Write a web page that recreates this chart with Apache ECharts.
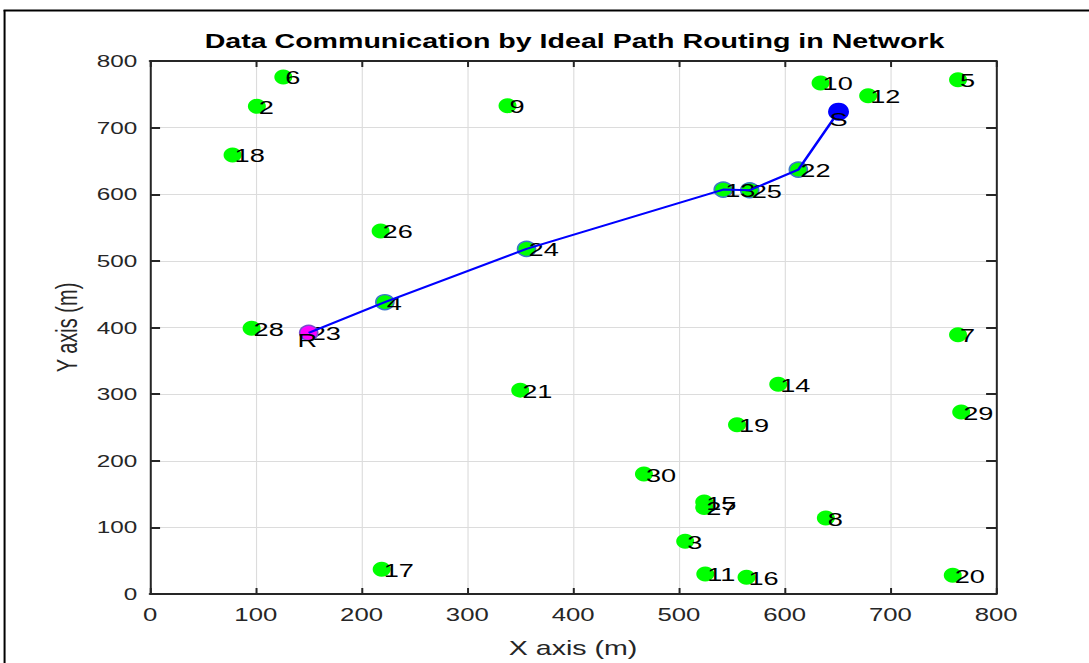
<!DOCTYPE html>
<html>
<head>
<meta charset="utf-8">
<script src="https://cdn.jsdelivr.net/npm/echarts@6/dist/echarts.min.js"></script>
<style>
html,body{margin:0;padding:0;background:#fff;overflow:hidden;width:1089px;height:663px}
#chart{width:762px;height:663px;overflow:hidden;transform:scaleX(1.429134);transform-origin:0 0;}
</style>
</head>
<body>
<div id="chart"></div>
<script>
// ---- data ----
const titleText = 'Data Communication by Ideal Path Routing in Network';
const xAxisName = 'X axis (m)';
const yAxisName = 'Y axis (m)';
const axisMin = 0, axisMax = 800, axisStep = 100;

const nodeIds = [1,2,3,4,5,6,7,8,9,10,11,12,13,14,15,16,17,18,19,20,21,22,23,24,25,26,27,28,29,30];
const nodeX   = [651,101,506,222,764,126,764,639,338,634,525,679,542,594,524,564,219,78,555,759,350,613,150,356,567,218,524,96,767,467];
const nodeY   = [724,732,79,438,772,776,389,114,733,767,30,748,607,315,138,25,37,659,254,28,306,637,392,518,606,545,130,399,273,180];

const sourceId = 1;     // S
const receiverId = 23;  // R
const routeIds = [23,4,24,13,25,22,1];

// ---- helpers ----
const K = 1.429134; // horizontal stretch of the reference rendering
const pt = id => { const i = nodeIds.indexOf(id); return [nodeX[i], nodeY[i], id]; };
const FONT = 'Liberation Sans, Arial, sans-serif';
const MK = [18 / K, 15];

const innerIds = routeIds.filter(id => id !== sourceId && id !== receiverId);
const plainIds = nodeIds.filter(id => routeIds.indexOf(id) < 0 || id === receiverId);

const chart = echarts.init(document.getElementById('chart'), null, {renderer: 'svg'});

const numLabel = {
  show: true, position: 'inside', align: 'left', verticalAlign: 'middle',
  offset: [2 / K, 1], formatter: p => String(p.value[2]),
  fontFamily: FONT, fontSize: 19, color: '#000'
};

const axisCommon = {
  type: 'value', min: axisMin, max: axisMax, interval: axisStep
};

chart.setOption({
  animation: false,
  backgroundColor: '#fff',
  title: {
    text: titleText, left: 397, top: 26, textAlign: 'center',
    textStyle: {fontFamily: FONT, fontWeight: 'bold', fontSize: 20, color: '#000'}
  },
  grid: {left: 105, right: 65, top: 61, bottom: 63, containLabel: false},
  graphic: [
    {type: 'line', shape: {x1: 2.5, y1: 10.5, x2: 762, y2: 10.5}, style: {stroke: '#000', lineWidth: 2}, silent: true},
    {type: 'line', shape: {x1: 3.2, y1: 10, x2: 3.2, y2: 663}, style: {stroke: '#000', lineWidth: 1.4}, silent: true}
  ],
  xAxis: [
    Object.assign({}, axisCommon, {
      position: 'bottom',
      name: xAxisName, nameLocation: 'middle', nameGap: 44,
      nameTextStyle: {fontFamily: FONT, fontSize: 20, color: '#262626'},
      axisLine: {show: true, onZero: false, lineStyle: {color: '#262626', width: 2}},
      axisTick: {show: true, inside: true, length: 6, lineStyle: {color: '#262626', width: 1.4}},
      axisLabel: {show: true, margin: 12, fontFamily: FONT, fontSize: 18, color: '#262626'},
      splitLine: {show: true, lineStyle: {color: '#dcdcdc', width: 0.8}}
    }),
    Object.assign({}, axisCommon, {
      position: 'top',
      axisLine: {show: true, onZero: false, lineStyle: {color: '#262626', width: 2}},
      axisTick: {show: true, inside: true, length: 6, lineStyle: {color: '#262626', width: 1.4}},
      axisLabel: {show: false},
      splitLine: {show: false}
    })
  ],
  yAxis: [
    Object.assign({}, axisCommon, {
      position: 'left',
      name: yAxisName, nameLocation: 'middle', nameGap: 45, nameRotate: 90,
      nameTextStyle: {fontFamily: FONT, fontSize: 20, color: '#262626'},
      axisLine: {show: true, onZero: false, lineStyle: {color: '#262626', width: 1.4}},
      axisTick: {show: true, inside: true, length: 7, lineStyle: {color: '#262626', width: 2}},
      axisLabel: {show: true, margin: 9, fontFamily: FONT, fontSize: 17, color: '#262626'},
      splitLine: {show: true, lineStyle: {color: '#dcdcdc', width: 1}}
    }),
    Object.assign({}, axisCommon, {
      position: 'right',
      axisLine: {show: true, onZero: false, lineStyle: {color: '#262626', width: 1.4}},
      axisTick: {show: true, inside: true, length: 7, lineStyle: {color: '#262626', width: 2}},
      axisLabel: {show: false},
      splitLine: {show: false}
    })
  ],
  series: [
    {
      name: 'nodes', type: 'scatter', z: 2,
      symbol: 'circle', symbolSize: MK,
      itemStyle: {color: '#00ff00', opacity: 1},
      data: plainIds.map(pt),
      label: numLabel
    },
    {
      name: 'route nodes', type: 'scatter', z: 3,
      symbol: 'circle', symbolSize: MK,
      itemStyle: {color: '#00ff00', borderColor: '#3a78c8', borderWidth: 1.3, opacity: 1},
      data: innerIds.map(pt),
      label: numLabel
    },
    {
      name: 'receiver', type: 'scatter', z: 3,
      symbol: 'circle', symbolSize: MK,
      itemStyle: {color: '#ff00ff', borderColor: '#7a4ad0', borderWidth: 1.3, opacity: 1},
      data: [pt(receiverId)],
      label: {show: true, position: 'inside', align: 'center', verticalAlign: 'middle',
              offset: [-1, 8], formatter: 'R', fontFamily: FONT, fontSize: 19, color: '#000'}
    },
    {
      name: 'route', type: 'line', z: 4,
      data: routeIds.map(pt),
      symbol: 'none', showSymbol: false,
      lineStyle: {color: '#0000ff', width: 2},
      silent: true
    },
    {
      name: 'source', type: 'scatter', z: 5,
      symbol: 'circle', symbolSize: [21 / K, 18],
      itemStyle: {color: '#0000ff', opacity: 1},
      data: [pt(sourceId)],
      label: {show: true, position: 'inside', align: 'center', verticalAlign: 'middle',
              offset: [0, 8], formatter: 'S', fontFamily: FONT, fontSize: 19, color: '#000'}
    }
  ]
});
</script>
</body>
</html>
